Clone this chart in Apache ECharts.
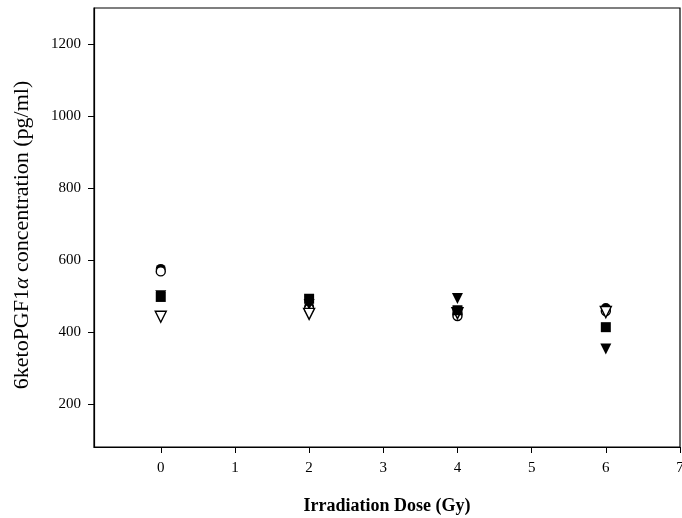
<!DOCTYPE html>
<html><head><meta charset="utf-8">
<script src="https://cdn.jsdelivr.net/npm/echarts@6/dist/echarts.min.js"></script>
<style>html,body{margin:0;padding:0;background:#fff}#c{width:682px;height:518px}</style>
</head><body><div id="c"></div>
<script>
const doses = [0, 2, 4, 6];
const filledCircle = [575, 470, 450, 466];
const openCircle = [568, 464, 444, 458];
const filledTriangle = [500, 476, 493, 352];
const openTriangle = [442, 450, 452, 455];
const filledSquare = [497, 492, 460, 413];
const xTicks = [0, 1, 2, 3, 4, 5, 6, 7];
const yTicks = [200, 400, 600, 800, 1000, 1200];

const font = 'Liberation Serif';
const tri = 'path://M0,0 L10,0 L5,9 Z';
function pts(v){ return doses.map((d,i)=>[d, v[i]]); }
function ser(name, data, symbol, filled, size){
  return {name, type:'scatter', data: pts(data), symbol, symbolSize: size,
    itemStyle:{color: filled ? '#000' : '#fff', borderColor:'#000', borderWidth: filled?0:1.4, opacity:1}};
}
const chart = echarts.init(document.getElementById('c'), null, {renderer:'canvas'});
chart.setOption({
  animation:false,
  backgroundColor:'#fff',
  grid:{left:94, right:2, top:8, bottom:71, outerBoundsMode:'none', containLabel:false,
    show:true, borderColor:'#000', borderWidth:1.2, backgroundColor:'transparent'},
  xAxis:{type:'value', min:-0.9, max:7,
    axisLine:{show:true, onZero:false, lineStyle:{color:'#000', width:1.2}},
    axisTick:{show:true, length:6, inside:false, customValues:xTicks, lineStyle:{color:'#000'}},
    axisLabel:{customValues:xTicks, color:'#000', fontFamily:font, fontSize:15, margin:14,
      formatter: v => String(v)},
    splitLine:{show:false},
    name:'Irradiation Dose (Gy)', nameLocation:'middle', nameGap:50,
    nameTextStyle:{fontFamily:font, fontSize:18, fontWeight:'bold', color:'#000'}},
  yAxis:{type:'value', min:80, max:1300,
    axisLine:{show:true, onZero:false, lineStyle:{color:'#000', width:1.2}},
    axisTick:{show:true, length:6, customValues:yTicks, lineStyle:{color:'#000'}},
    axisLabel:{customValues:yTicks, color:'#000', fontFamily:font, fontSize:15, margin:13,
      formatter: v => String(v)},
    splitLine:{show:false},
    name:'{r|6ketoPGF1}{i|α}{r| concentration (pg/ml)}', nameLocation:'middle', nameGap:61,
    nameTextStyle:{fontFamily:font, fontSize:22, color:'#000', padding:[0,15,0,0],
      rich:{r:{fontFamily:font, fontSize:22, color:'#000'},
            i:{fontFamily:font, fontSize:22, fontStyle:'italic', color:'#000'}}}},
  series:[
    ser('filledCircle', filledCircle, 'circle', true, 10),
    ser('openCircle', openCircle, 'circle', false, 9),
    ser('filledTriangle', filledTriangle, tri, true, 11),
    ser('openTriangle', openTriangle, tri, false, 11),
    ser('filledSquare', filledSquare, 'rect', true, 10)
  ]
});
</script></body></html>
